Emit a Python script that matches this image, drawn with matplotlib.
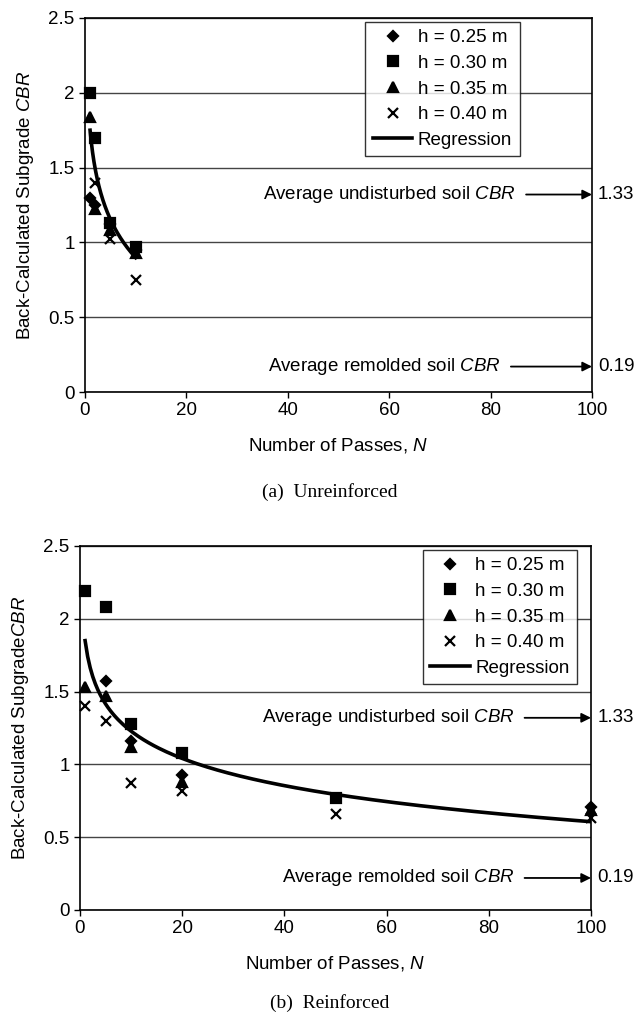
import matplotlib
matplotlib.use('Agg')

import matplotlib.pyplot as plt
import numpy as np

plt.rcParams['font.family'] = ['Liberation Sans', 'DejaVu Sans']
plt.rcParams['mathtext.fontset'] = 'custom'
plt.rcParams['mathtext.rm'] = 'Liberation Sans'
plt.rcParams['mathtext.it'] = 'Liberation Sans:italic'

# ---- data ----
labels = ['h = 0.25 m', 'h = 0.30 m', 'h = 0.35 m', 'h = 0.40 m']
markers = ['D', 's', '^', 'x']

# (a) unreinforced
top_n = [[1, 2, 5, 10], [1, 2, 5, 10], [1, 2, 5, 10], [2, 5, 10]]
top_cbr = [
    [1.30, 1.25, 1.12, 0.95],
    [2.00, 1.70, 1.13, 0.97],
    [1.84, 1.22, 1.08, 0.93],
    [1.40, 1.02, 0.75],
]
top_reg = (1.75, -0.37)      # y = a + b ln N
top_reg_range = (1, 10)

# (b) reinforced
bot_n = [[5, 10, 20, 100], [1, 5, 10, 20, 50], [1, 5, 10, 20, 100], [1, 5, 10, 20, 50, 100]]
bot_cbr = [
    [1.57, 1.16, 0.93, 0.71],
    [2.19, 2.08, 1.28, 1.08, 0.77],
    [1.53, 1.47, 1.12, 0.88, 0.69],
    [1.40, 1.30, 0.87, 0.82, 0.66, 0.63],
]
bot_reg = (1.85, -0.27)
bot_reg_range = (1, 100)

undisturbed_cbr = 1.33
remolded_cbr = 0.19


def draw_panel(ax, ns, vals, reg, reg_range, ylabel, legend_anchor, ann):
    sizes = {'D': 5.5, 's': 7, '^': 7, 'x': 7}
    for i in range(len(vals)):
        ax.plot(ns[i], vals[i], linestyle='none', marker=markers[i], color='black',
                markersize=sizes[markers[i]], mew=1.6, label=labels[i],
                clip_on=False, zorder=3)
    nn = np.linspace(reg_range[0], reg_range[1], 200)
    ax.plot(nn, reg[0] + reg[1] * np.log(nn), color='black', lw=2.6,
            label='Regression', zorder=4)

    ax.set_xlim(0, 100)
    ax.set_ylim(0, 2.5)
    ax.set_xticks(np.arange(0, 101, 20))
    ax.set_yticks(np.arange(0, 2.51, 0.5))
    ax.set_yticklabels(['0', '0.5', '1', '1.5', '2', '2.5'])
    ax.yaxis.grid(True, color='#444444', lw=1.0)
    ax.set_axisbelow(True)
    ax.tick_params(labelsize=13.5, length=4, width=1)
    for s in ax.spines.values():
        s.set_linewidth(1.2)
    ax.set_xlabel('Number of Passes, $\\it{N}$', fontsize=13.5, labelpad=12)
    ax.set_ylabel(ylabel, fontsize=13.5, labelpad=9)

    leg = ax.legend(loc='upper right', bbox_to_anchor=legend_anchor, fontsize=13.5,
                    frameon=True, fancybox=False, edgecolor='black', handlelength=2.1,
                    borderpad=0.4, labelspacing=0.45, handletextpad=0.3,
                    borderaxespad=0.2)
    leg.get_frame().set_linewidth(1.0)

    for (txt_x, y, text, arr_x, val) in ann:
        ax.text(txt_x, y, text, ha='right', va='center', fontsize=13.5)
        ax.annotate('', xy=(100, y), xytext=(arr_x, y),
                    arrowprops=dict(arrowstyle='-|>', color='black', lw=1.3,
                                    mutation_scale=14, shrinkA=0, shrinkB=0))
        ax.text(101.2, y, val, ha='left', va='center', fontsize=13.5, clip_on=False)


fig = plt.figure(figsize=(6.38, 10.19), dpi=100)

ax1 = fig.add_axes([85 / 638, 1 - 392 / 1019, 507 / 638, 374 / 1019])
draw_panel(ax1, top_n, top_cbr, top_reg, top_reg_range,
           'Back-Calculated Subgrade $\\it{CBR}$', (0.865, 1.0),
           [(85, 1.32, 'Average undisturbed soil $\\it{CBR}$', 87, '%.2f' % undisturbed_cbr),
            (82, 0.17, 'Average remolded soil $\\it{CBR}$', 84, '%.2f' % remolded_cbr)])
fig.text(330 / 638, 1 - 492 / 1019, '(a)  Unreinforced', ha='center', va='center',
         fontsize=14, family='Liberation Serif')

ax2 = fig.add_axes([80 / 638, 1 - 910 / 1019, 511 / 638, 364 / 1019])
draw_panel(ax2, bot_n, bot_cbr, bot_reg, bot_reg_range,
           'Back-Calculated Subgrade$\\it{CBR}$', (0.98, 1.0),
           [(85, 1.32, 'Average undisturbed soil $\\it{CBR}$', 87, '%.2f' % undisturbed_cbr),
            (85, 0.22, 'Average remolded soil $\\it{CBR}$', 87, '%.2f' % remolded_cbr)])
fig.text(330 / 638, 1 - 1003 / 1019, '(b)  Reinforced', ha='center', va='center',
         fontsize=14, family='Liberation Serif')

fig.savefig('out.png', dpi=100)
